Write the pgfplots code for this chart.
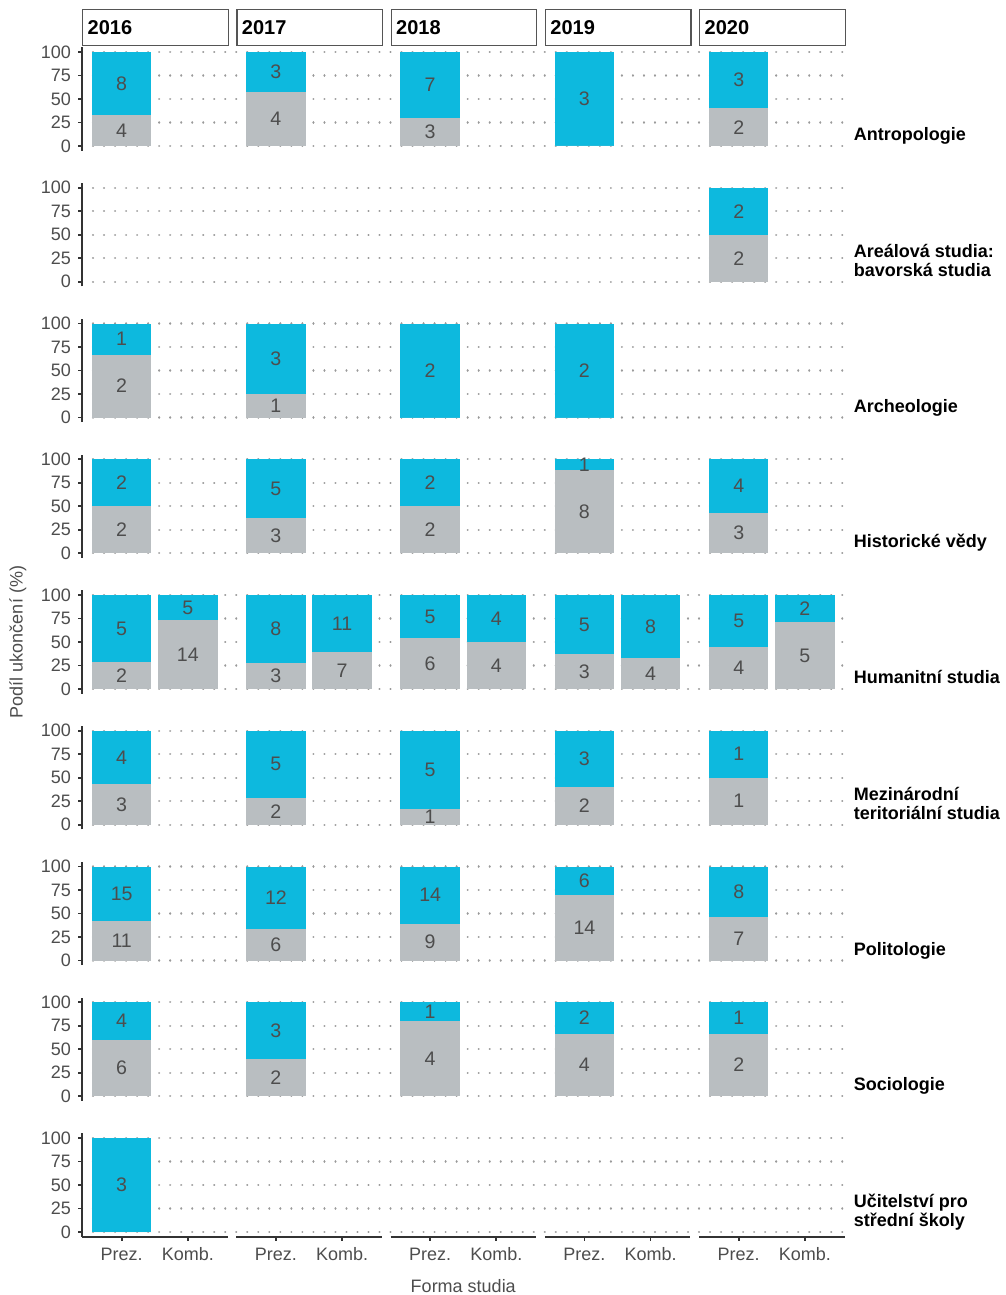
\documentclass[border=0pt]{standalone}
\usepackage{pgfplots}
\pgfplotsset{compat=1.18}
\usepgfplotslibrary{groupplots}
\usepackage{fontspec}
\setmainfont{Liberation Sans}
\definecolor{cyanbar}{HTML}{0DB9DE}
\definecolor{graybar}{HTML}{B9BEC1}
\definecolor{lbl}{HTML}{4D4D4D}
\definecolor{axisc}{HTML}{333333}
\definecolor{gridc}{HTML}{9A9A9A}
\definecolor{stripc}{HTML}{555555}

\pgfplotsset{
  seg/.style={ybar, bar width=0.9, bar shift=0pt, draw=none, forget plot},
  lab/.style={draw=none, mark=none, nodes near coords,
    point meta=explicit symbolic,
    every node near coord/.style={anchor=center, text=lbl, font=\fontsize{9.8}{11}\selectfont, inner sep=0pt},
    forget plot},
  L/.style={y axis line style={draw=axisc, line width=0.9pt}, ytick style={draw=axisc, line width=0.9pt}, yticklabels={0,25,50,75,100}},
  Bo/.style={x axis line style={draw=axisc, line width=0.9pt}, xtick style={draw=axisc, line width=0.9pt}, xticklabels={Prez.,Komb.}},
  RL/.style={after end axis/.append code={\node[anchor=south west, inner sep=0pt, align=left,
      font=\bfseries\fontsize{9}{9.5}\selectfont, xshift=4.5pt, yshift=2pt] at (rel axis cs:1,0) {#1\strut};}},
}
\newcommand\B[4]{%
  \addplot[seg, fill=cyanbar] coordinates {(#1,100)};
  \addplot[seg, fill=graybar] coordinates {(#1,#2)};
  \pgfmathsetmacro\gmid{#2/2}%
  \pgfmathsetmacro\cmid{(100+#2)/2}%
  \ifnum#3>0 \edef\tmp{\noexpand\addplot[lab] coordinates {(#1,\gmid) [#3]};}\tmp\fi
  \ifnum#4>0 \edef\tmp{\noexpand\addplot[lab] coordinates {(#1,\cmid) [#4]};}\tmp\fi
}

\begin{document}
\begin{tikzpicture}
\begin{groupplot}[
  group style={group size=5 by 9, horizontal sep=4.375pt, vertical sep=16.175pt, group name=group},
  scale only axis, width=72.75pt, height=51.7pt,
  xmin=0.4, xmax=2.6, ymin=-5, ymax=105,
  clip=false,
  axis x line*=bottom, axis y line*=left,
  x axis line style={draw=none}, y axis line style={draw=none},
  xtick style={draw=none}, ytick style={draw=none},
  xtick={1,2}, ytick={0,25,50,75,100},
  xticklabels={}, yticklabels={},
  tick align=outside, major tick length=2pt,
  tick label style={font=\fontsize{9}{10}\selectfont, text=lbl},
  ymajorgrids,
  grid style={gridc, line width=1.1pt, dash pattern=on 0.01pt off 5.5pt, line cap=round},
  every axis title/.style={at={(0,1)}, anchor=south west, draw=stripc, fill=white, line width=0.7pt,
    text width=67.75pt, minimum height=18pt, inner xsep=2.5pt, inner ysep=0pt,
    font=\bfseries\fontsize{10}{12}\selectfont, align=left, yshift=0.4pt},
  every axis y label/.style={at={(-0.44,0.5)}, rotate=90, anchor=center, font=\fontsize{9}{10}\selectfont, text=lbl},
  every axis x label/.style={at={(0.5,0)}, anchor=center, yshift=-24.65pt, font=\fontsize{9}{10}\selectfont, text=lbl},
]
% Row 1: Antropologie
\nextgroupplot[L, title={2016}]
\B{1}{33.3}{4}{8}
\nextgroupplot[title={2017}]
\B{1}{57.1}{4}{3}
\nextgroupplot[title={2018}]
\B{1}{30}{3}{7}
\nextgroupplot[title={2019}]
\B{1}{0}{0}{3}
\nextgroupplot[title={2020}, RL={Antropologie}]
\B{1}{40}{2}{3}
% Row 2: Arealova studia
\nextgroupplot[L]
\nextgroupplot[]
\nextgroupplot[]
\nextgroupplot[]
\nextgroupplot[RL={Areálová studia:\\bavorská studia}]
\B{1}{50}{2}{2}
% Row 3: Archeologie
\nextgroupplot[L]
\B{1}{66.7}{2}{1}
\nextgroupplot[]
\B{1}{25}{1}{3}
\nextgroupplot[]
\B{1}{0}{0}{2}
\nextgroupplot[]
\B{1}{0}{0}{2}
\nextgroupplot[RL={Archeologie}]
% Row 4: Historicke vedy
\nextgroupplot[L]
\B{1}{50}{2}{2}
\nextgroupplot[]
\B{1}{37.5}{3}{5}
\nextgroupplot[]
\B{1}{50}{2}{2}
\nextgroupplot[]
\B{1}{88.9}{8}{1}
\nextgroupplot[RL={Historické vědy}]
\B{1}{42.9}{3}{4}
% Row 5: Humanitni studia
\nextgroupplot[L, ylabel={Podíl ukončení (\%)}]
\B{1}{28.6}{2}{5}
\B{2}{73.7}{14}{5}
\nextgroupplot[]
\B{1}{27.3}{3}{8}
\B{2}{38.9}{7}{11}
\nextgroupplot[]
\B{1}{54.5}{6}{5}
\B{2}{50}{4}{4}
\nextgroupplot[]
\B{1}{37.5}{3}{5}
\B{2}{33.3}{4}{8}
\nextgroupplot[RL={Humanitní studia}]
\B{1}{44.4}{4}{5}
\B{2}{71.4}{5}{2}
% Row 6: Mezinarodni teritorialni studia
\nextgroupplot[L]
\B{1}{42.9}{3}{4}
\nextgroupplot[]
\B{1}{28.6}{2}{5}
\nextgroupplot[]
\B{1}{16.7}{1}{5}
\nextgroupplot[]
\B{1}{40}{2}{3}
\nextgroupplot[RL={Mezinárodní\\teritoriální studia}]
\B{1}{50}{1}{1}
% Row 7: Politologie
\nextgroupplot[L]
\B{1}{42.3}{11}{15}
\nextgroupplot[]
\B{1}{33.3}{6}{12}
\nextgroupplot[]
\B{1}{39.1}{9}{14}
\nextgroupplot[]
\B{1}{70}{14}{6}
\nextgroupplot[RL={Politologie}]
\B{1}{46.7}{7}{8}
% Row 8: Sociologie
\nextgroupplot[L]
\B{1}{60}{6}{4}
\nextgroupplot[]
\B{1}{40}{2}{3}
\nextgroupplot[]
\B{1}{80}{4}{1}
\nextgroupplot[]
\B{1}{66.7}{4}{2}
\nextgroupplot[RL={Sociologie}]
\B{1}{66.7}{2}{1}
% Row 9: Ucitelstvi
\nextgroupplot[L, Bo]
\B{1}{0}{0}{3}
\nextgroupplot[Bo]
\nextgroupplot[Bo, xlabel={Forma studia}]
\nextgroupplot[Bo]
\nextgroupplot[Bo, RL={Učitelství pro\\střední školy}]
\end{groupplot}
\pgfresetboundingbox
\path[use as bounding box] ([shift={(-41pt,23.65pt)}]group c1r1.north west) rectangle ([shift={(80.25pt,-29.15pt)}]group c5r9.south east);
\end{tikzpicture}
\end{document}
